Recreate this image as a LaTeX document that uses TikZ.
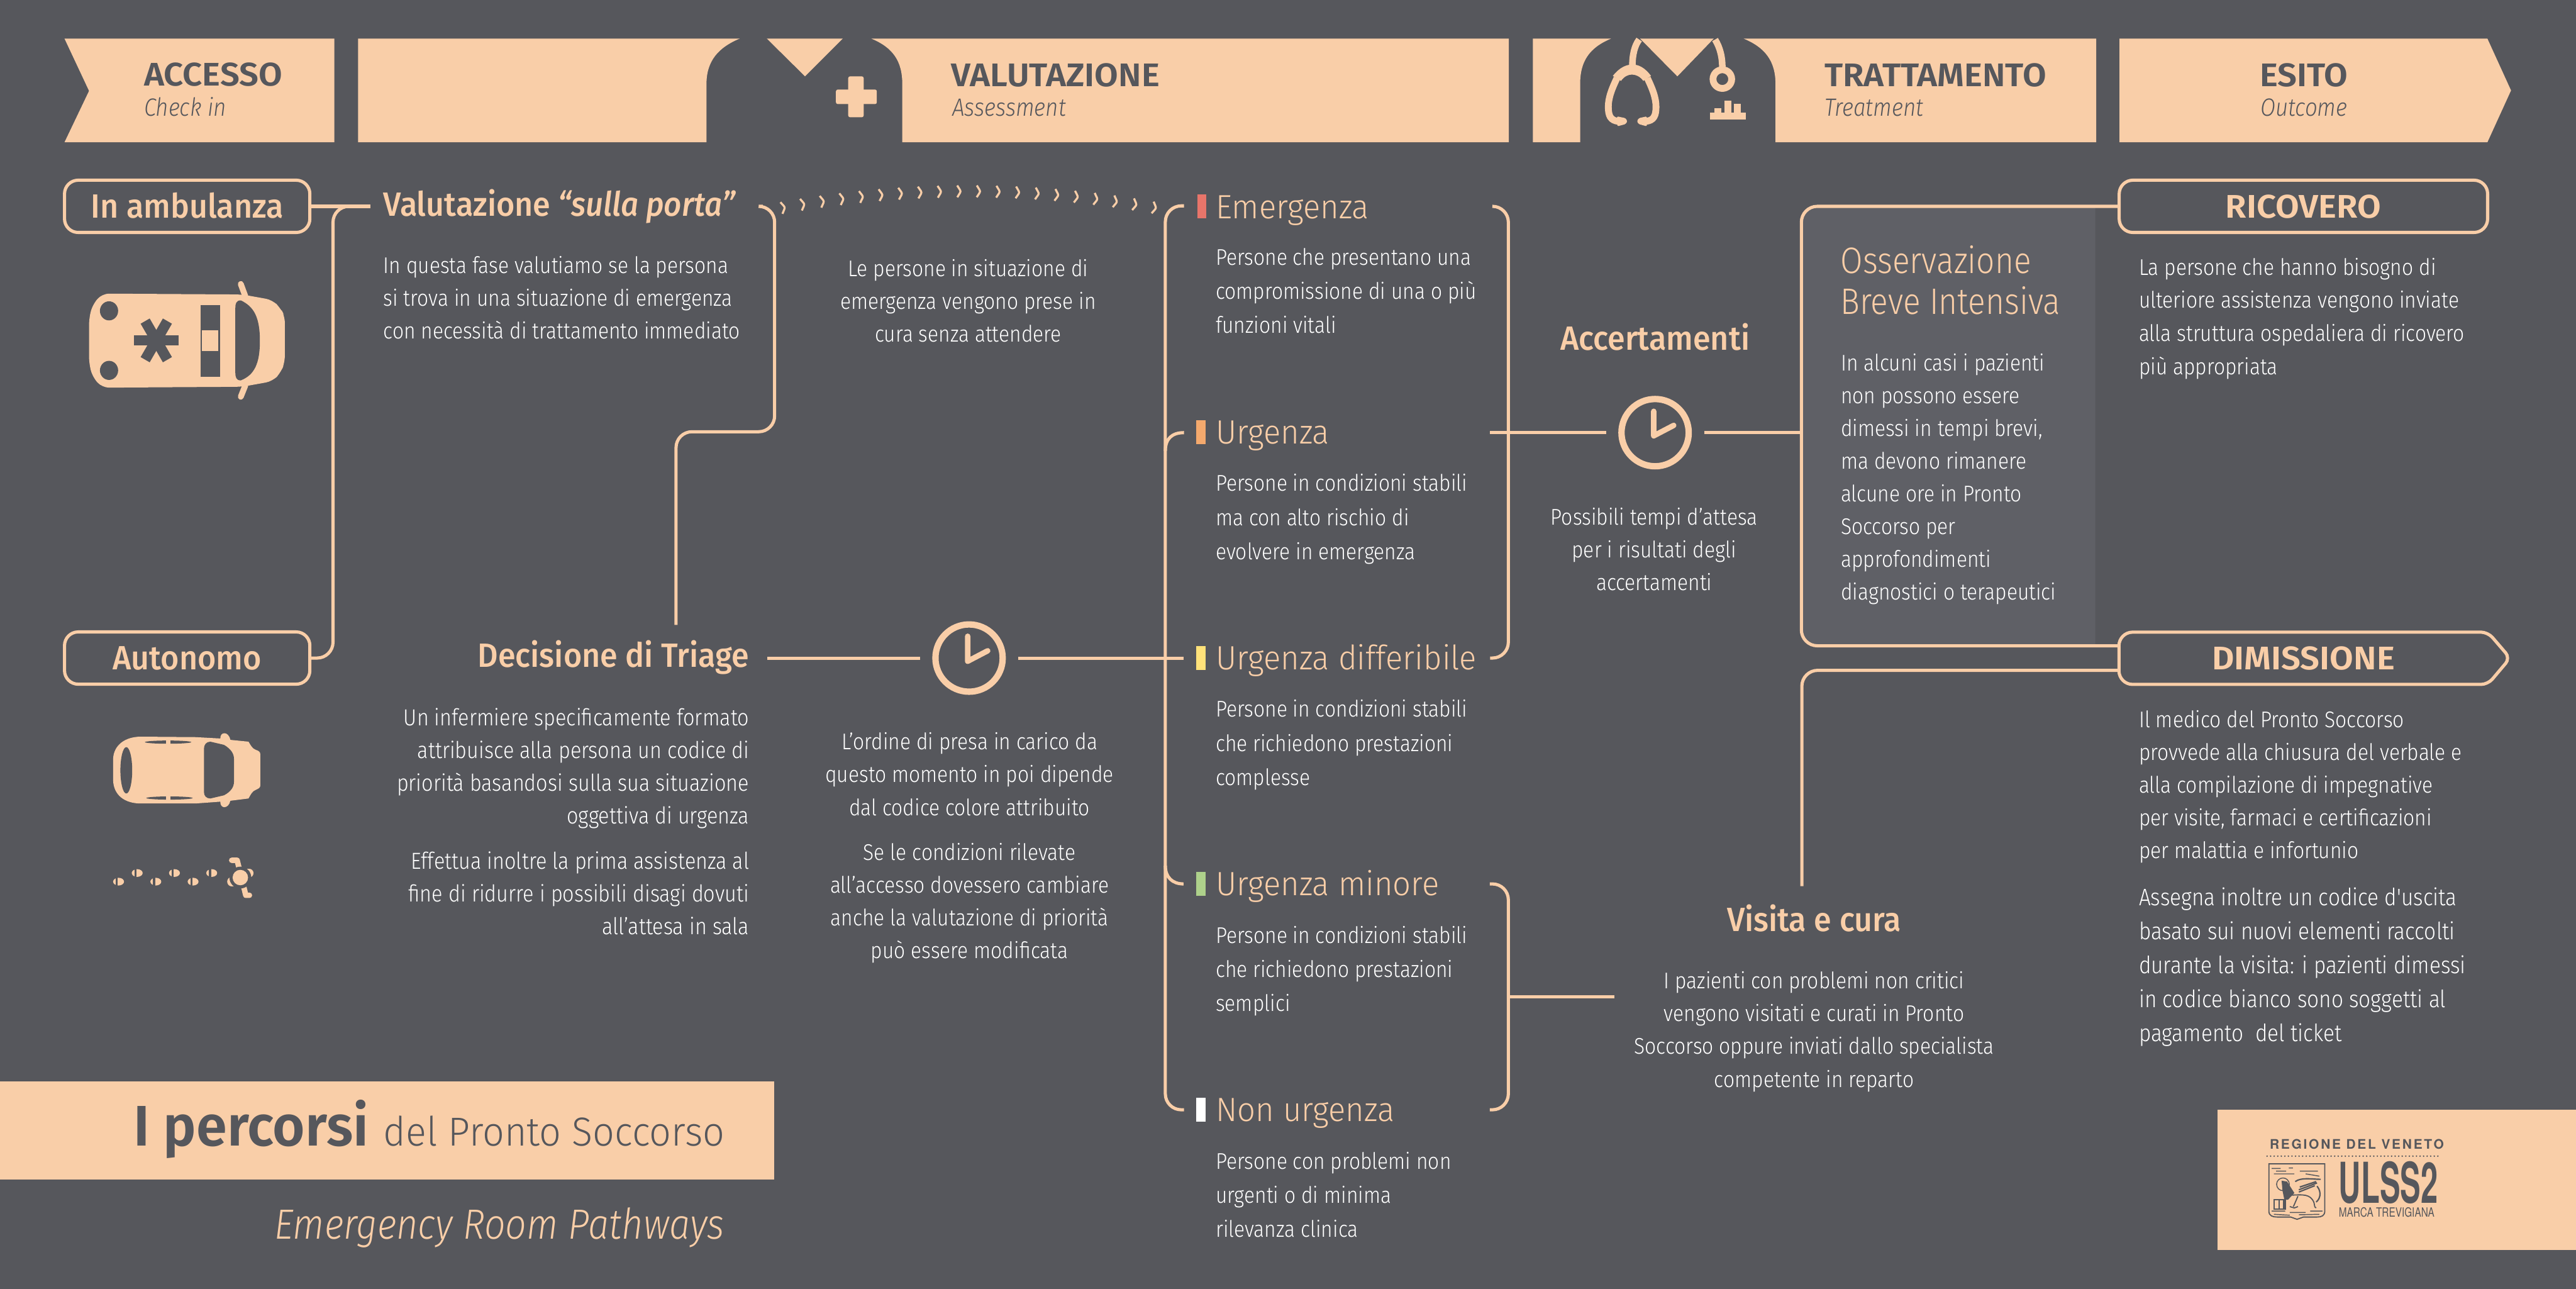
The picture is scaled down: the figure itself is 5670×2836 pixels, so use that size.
\documentclass[tikz,border=0pt]{standalone}
\usepackage{fontspec}
\setmainfont{Fira Sans Light}
\newfontfamily\flight[FakeStretch=0.88]{Fira Sans Light}
\newfontfamily\fcat[FakeStretch=0.95]{Fira Sans Light}
\newfontfamily\flightit[FakeStretch=0.88]{Fira Sans Light Italic}
\newfontfamily\fsemi[FakeStretch=0.94]{Fira Sans Medium}
\newfontfamily\fsemiit[FakeStretch=0.92]{Fira Sans Medium Italic}
\newfontfamily\fcaps[FakeStretch=1.05]{Fira Sans SemiBold}
\newfontfamily\ftitle[FakeStretch=0.97]{Fira Sans SemiBold}
\newfontfamily\fhelb[LetterSpace=13]{TeX Gyre Heros Bold}
\newfontfamily\fhelc[FakeStretch=0.545]{TeX Gyre Heros}
\newfontfamily\fhelm[FakeStretch=0.76]{TeX Gyre Heros}
\definecolor{bg}{HTML}{56575C}
\definecolor{peach}{HTML}{F9CEA8}
\definecolor{obifill}{HTML}{5F6066}
\definecolor{cred}{HTML}{E8756A}
\definecolor{corange}{HTML}{F4A96D}
\definecolor{cyellow}{HTML}{FFE27A}
\definecolor{cgreen}{HTML}{AED18B}
\newcommand{\fs}[2]{\fontsize{#1}{#2}\selectfont}
\tikzset{
 x=0.1pt,y=-0.1pt,
 band/.style={fill=peach},
 conn/.style={draw=peach,line width=0.7pt},
 bracket/.style={conn,rounded corners=3.5pt},
 bodyL/.style={anchor=base west,align=left,inner sep=0pt,text=white,font=\flight\fs{5}{7.5}},
 bodyR/.style={anchor=base east,align=right,inner sep=0pt,text=white,font=\flight\fs{5.1}{7.2}},
 bodyC/.style={anchor=base,align=center,inner sep=0pt,text=white,font=\flight\fs{5}{7.2}},
 headL/.style={anchor=base west,inner sep=0pt,text=peach,font=\fsemi\fs{7.4}{9}},
 headR/.style={anchor=base east,inner sep=0pt,text=peach,font=\fsemi\fs{7.4}{9}},
 headC/.style={anchor=base,inner sep=0pt,text=peach,font=\fsemi\fs{7.4}{9}},
 cat/.style={anchor=base west,inner sep=0pt,text=peach,font=\fcat\fs{7.4}{9}},
 bh/.style={anchor=base west,inner sep=0pt,text=bg,font=\fcaps\fs{7.2}{9}},
 bs/.style={anchor=base west,inner sep=0pt,text=bg,font=\flightit\fs{5.5}{7}},
 boxn/.style={draw=peach,line width=0.7pt,rounded corners=3pt,minimum height=11.5pt,inner sep=0pt,text=peach,text height=5.2pt,text depth=0pt,font=\fsemi\fs{7.4}{9}},
 clockn/.style={circle,draw=peach,line width=1.4pt,minimum size=14.8pt,inner sep=0pt},
 hand/.style={draw=peach,line width=1.2pt,line cap=round,line join=round},
 dk/.style={fill=bg},
}
\begin{document}
\begin{tikzpicture}
\path[use as bounding box,fill=bg] (0,0) rectangle (5670,2836);
% ---- header bands
\fill[band] (142,85) -- (736,85) -- (736,313) -- (142,313) -- (196,200) -- cycle;
\fill[band] (788,85) -- (1628,85) .. controls (1580,105) and (1555,135) .. (1555,185) -- (1555,313) -- (788,313) -- cycle;
\fill[band] (1688,85) -- (1855,85) -- (1772,168) -- cycle;
\fill[band] (1918,85) .. controls (1966,105) and (1986,135) .. (1986,185) -- (1986,313) -- (3321,313) -- (3321,85) -- cycle;
\fill[band] (3374,85) -- (3546,85) .. controls (3498,105) and (3478,135) .. (3478,185) -- (3478,313) -- (3374,313) -- cycle;
\fill[band] (3610,85) -- (3772,85) -- (3692,168) -- cycle;
\fill[band] (3838,85) .. controls (3886,105) and (3908,135) .. (3908,185) -- (3908,313) -- (4614,313) -- (4614,85) -- cycle;
\fill[band] (4665,85) -- (5475,85) -- (5527,199) -- (5475,313) -- (4665,313) -- cycle;
% cross
\fill[band,rounded corners=0.4pt] (1867,168) rectangle (1901,258);
\fill[band,rounded corners=0.4pt] (1840,197) rectangle (1930,229);
% stethoscope
\draw[peach,line width=1.45pt] (3608,87) .. controls (3598,100) and (3593,120) .. (3593,145);
\draw[peach,line width=1.45pt] (3775,87) .. controls (3786,105) and (3791,125) .. (3791,150);
\fill[peach] (3550,167) .. controls (3565,148) and (3580,142) .. (3593,142) .. controls (3606,142) and (3620,148) .. (3634,167) -- (3617,178) .. controls (3610,168) and (3600,164) .. (3592,164) .. controls (3584,164) and (3575,168) .. (3568,178) -- cycle;
\draw[peach,line width=1.5pt] (3559,172) .. controls (3548,195) and (3540,215) .. (3540,235) .. controls (3540,255) and (3545,265) .. (3562,267);
\draw[peach,line width=1.5pt] (3626,172) .. controls (3637,195) and (3645,215) .. (3645,235) .. controls (3645,255) and (3640,265) .. (3623,267);
\fill[peach,rounded corners=0.3pt] (3559,256) -- (3578,260) -- (3582,267) -- (3578,273) -- (3560,278) -- cycle;
\fill[peach,rounded corners=0.3pt] (3625,256) -- (3607,260) -- (3603,267) -- (3607,273) -- (3625,278) -- cycle;
\draw[peach,line width=1.5pt] (3791,174) circle (20.5);
\fill[peach] (3764,248) rectangle (3843,263);
\fill[peach] (3774,238) rectangle (3789,248);
\fill[peach] (3796,221) rectangle (3811,248);
\fill[peach] (3817,229) rectangle (3832,248);
% header text
\node[bh] (taccesso) at (315,189) {ACCESSO};
\node[bs] (tcheck) at (315,255) {Check in};
\node[bh] (tval) at (2092,190) {VALUTAZIONE};
\node[bs] (tass) at (2094,256) {Assessment};
\node[bh] (ttrat) at (4014,190) {TRATTAMENTO};
\node[bs] (ttre) at (4014,256) {Treatment};
\node[bh,anchor=base] (tesi) at (5071,190) {ESITO};
\node[bs,anchor=base] (tout) at (5071,256) {Outcome};
% ---- left column
\node[boxn,minimum width=54pt] (amb) at (412,454) {In ambulanza};
\node[boxn,minimum width=54pt] (aut) at (412,1448) {Autonomo};
\coordinate (vt) at (815,454);
\draw[conn] (amb.east) -- (vt);
\draw[bracket] (vt) -- (733,454) -- (733,1448) -- (aut.east);
% ambulance
\fill[peach,rounded corners=1.5pt] (225,646) -- (533,648) -- (600,660) -- (618,679) -- (627,696) -- (627,797) -- (618,820) -- (600,839) -- (533,851) -- (225,853) -- (204,830) -- (196,800) -- (196,700) -- (204,670) -- cycle;
\draw[peach,line width=1.3pt,line cap=round] (530,625) -- (540,652);
\draw[peach,line width=1.3pt,line cap=round] (530,873) -- (540,848);
\fill[dk] (240,684) ellipse (20 and 21);
\fill[dk] (240,815) ellipse (20 and 21);
\fill[dk] (442,671) rectangle (484,829);
\fill[peach] (445,727) rectangle (481,772);
\fill[dk] (530,661) .. controls (560,675) and (572,700) .. (572,750) .. controls (572,800) and (560,825) .. (530,837) .. controls (520,837) and (518,830) .. (518,820) -- (518,678) .. controls (518,668) and (520,661) .. (530,661) -- cycle;
\foreach \a in {0,60,120}{\draw[bg,line width=2.3pt,rotate around={\a:(344,749)}] (295,749) -- (393,749);}
% car
\fill[peach] (249,1670) .. controls (250,1640) and (275,1621) .. (310,1621) -- (430,1622) -- (485,1625) .. controls (484,1610) and (503,1608) .. (507,1628) -- (547,1632) .. controls (552,1640) and (555,1647) .. (563,1650) .. controls (570,1652) and (573,1655) .. (573,1660) -- (573,1728) .. controls (573,1733) and (570,1735) .. (563,1738) .. controls (555,1741) and (552,1748) .. (547,1757) -- (507,1762) .. controls (503,1781) and (484,1780) .. (485,1764) -- (430,1768) -- (310,1768) .. controls (275,1768) and (250,1750) .. (249,1717) -- cycle;
\fill[dk] (278,1695) ellipse (13 and 51);
\fill[dk] (463,1632) -- (493,1639) .. controls (508,1648) and (515,1658) .. (515,1670) -- (515,1720) .. controls (515,1732) and (508,1742) .. (493,1750) -- (463,1757) .. controls (454,1757) and (449,1751) .. (449,1743) -- (449,1647) .. controls (449,1639) and (454,1632) .. (463,1632) -- cycle;
\fill[dk] (370,1633) ellipse (51 and 3.5);
\fill[dk] (373,1756) ellipse (51 and 3.5);
\fill[peach] (366,1625) rectangle (375,1640);
\fill[peach] (366,1750) rectangle (375,1762);
% pedestrian
\foreach \px/\py in {261/1940,343/1940,425/1940,302/1921,384/1921,466/1921}{
 \fill[peach] (\px,\py) ellipse (12 and 8.5);
 \fill[bg] (\px-6,\py-10) rectangle (\px-1.5,\py+10);}
\draw[peach,line width=1.2pt,line cap=round,line join=round] (510,1893) -- (522,1893) -- (530,1925);
\draw[peach,line width=1.2pt,line cap=round,line join=round] (535,1945) -- (541,1970) -- (549,1970);
\draw[peach,line width=2pt,line cap=round] (530,1921) -- (548,1921);
\draw[peach,line width=2pt,line cap=round] (530,1940) -- (510,1940);
\fill[bg] (529,1931) circle (24);
\fill[peach] (529,1931) circle (17);
% ---- valutazione sulla porta
\node[headL] (vsp) at (842,475) {Valutazione {\fsemiit “sulla porta”}};
\node[bodyL,font=\flight\fs{5}{7.2}] (vspb) at (842,745) {In questa fase valutiamo se la persona\\si trova in una situazione di emergenza\\con necessità di trattamento immediato};
\coordinate (vp1) at (1679,454);
\coordinate (vp2) at (1488,1375);
\draw[bracket] (vp1) -- (1705,454) -- (1705,950) -- (1488,950) -- (vp2);
\foreach \i in {0,...,19}{
 \pgfmathsetmacro{\cx}{1723+43*\i}
 \pgfmathsetmacro{\tvar}{(\cx-2132)/408}
 \pgfmathsetmacro{\cy}{421+36*\tvar*\tvar}
 \pgfmathsetmacro{\ang}{-atan(2*\tvar*36/408)}
 \draw[peach,line width=0.45pt,shift={(\cx,\cy)},rotate=\ang] (-3,-13) .. controls (1,-6) and (4,-3) .. (4,0) .. controls (4,3) and (1,6) .. (-3,13);
}
\node[bodyC] (tpers) at (2131,753) {Le persone in situazione di\\emergenza vengono prese in\\cura senza attendere};
% ---- decisione di triage
\node[headR] (dtr) at (1651,1468) {Decisione di Triage};
\node[bodyR] (dtr1) at (1651,1813) {Un infermiere specificamente formato\\attribuisce alla persona un codice di\\priorità basandosi sulla sua situazione\\oggettiva di urgenza};
\node[bodyR] (dtr2) at (1651,2056) {Effettua inoltre la prima assistenza al\\fine di ridurre i possibili disagi dovuti\\all’attesa in sala};
\coordinate (dtrE) at (1689,1448);
\coordinate (lmid) at (2605,1448);
\node[clockn] (c1) at (2133,1448) {};
\draw[hand] (2130,1400) -- (2130,1455) -- (2174,1432);
\draw[conn] (dtrE) -- ([xshift=-2.7pt]c1.west);
\draw[conn] ([xshift=2.7pt]c1.east) -- (lmid);
\node[bodyC] (ord1) at (2134,1794) {L’ordine di presa in carico da\\questo momento in poi dipende\\dal codice colore attribuito};
\node[bodyC] (ord2) at (2134,2109) {Se le condizioni rilevate\\all’accesso dovessero cambiare\\anche la valutazione di priorità\\può essere modificata};
% ---- categories
\coordinate (la) at (2606,453);
\coordinate (lb) at (2606,2442);
\draw[bracket] (la) -- (2565,453) -- (2565,2442) -- (lb);
\coordinate (lu) at (2606,952);
\coordinate (lm) at (2605,1945);
\draw[conn] (lu) .. controls (2580,952) and (2565,965) .. (2565,992);
\draw[conn] (lm) .. controls (2580,1945) and (2565,1930) .. (2565,1905);
\fill[cred] (2635,428) rectangle (2655,481);
\fill[corange] (2633,925) rectangle (2654,977);
\fill[cyellow] (2633,1421) rectangle (2654,1474);
\fill[cgreen] (2633,1918) rectangle (2654,1971);
\fill[white] (2633,2416) rectangle (2654,2468);
\node[cat] (ce) at (2674,481) {Emergenza};
\node[cat] (cu) at (2674,977) {Urgenza};
\node[cat] (cd) at (2674,1473) {Urgenza differibile};
\node[cat] (cm) at (2674,1971) {Urgenza minore};
\node[cat] (cn) at (2674,2468) {Non urgenza};
\node[bodyL] (be) at (2674,733) {Persone che presentano una\\compromissione di una o più\\funzioni vitali};
\node[bodyL] (bu) at (2674,1231) {Persone in condizioni stabili\\ma con alto rischio di\\evolvere in emergenza};
\node[bodyL] (bd) at (2674,1728) {Persone in condizioni stabili\\che richiedono prestazioni\\complesse};
\node[bodyL] (bm) at (2674,2225) {Persone in condizioni stabili\\che richiedono prestazioni\\semplici};
\node[bodyL] (bn) at (2674,2722) {Persone con problemi non\\urgenti o di minima\\rilevanza clinica};
% right brackets
\coordinate (ra) at (3286,454);
\coordinate (rb) at (3280,1448);
\draw[bracket] (ra) -- (3320,454) -- (3320,1448) -- (rb);
\coordinate (rc) at (3279,1945);
\coordinate (rd) at (3279,2442);
\draw[bracket] (rc) -- (3320,1945) -- (3320,2442) -- (rd);
\coordinate (rs) at (3320,2193);
\coordinate (rt) at (3553,2193);
\draw[conn] (rs) -- (rt);
% ---- accertamenti
\node[headC] (acc) at (3643,770) {Accertamenti};
\node[clockn] (c2) at (3643,952) {};
\draw[hand] (3640,905) -- (3640,959) -- (3684,936);
\coordinate (ru) at (3280,952);
\coordinate (obiW) at (3965,952);
\draw[conn] (ru) -- ([xshift=-2.7pt]c2.west);
\draw[conn] ([xshift=2.7pt]c2.east) -- (obiW);
\node[bodyC] (accb) at (3641,1299) {Possibili tempi d’attesa\\per i risultati degli\\accertamenti};
% ---- OBI
\fill[obifill] (4612,454) [rounded corners=3.5pt] -- (3965,454) -- (3965,1421) [sharp corners] -- (4612,1421) -- cycle;
\node[boxn,minimum width=81.1pt,font=\fcaps\fs{7.2}{9}] (ric) at (5070,454) {RICOVERO};
\node[inner sep=0pt,anchor=base,text=peach,font=\fcaps\fs{7.2}{9}] (dim) at (5070,1473) {DIMISSIONE};
\draw[peach,line width=0.7pt,rounded corners=3pt] (4664,1448) -- (4664,1391) [rounded corners=1.5pt] -- (5476,1391) -- (5525,1448) -- (5476,1506) [rounded corners=3pt] -- (4664,1506) -- cycle;
\coordinate (d1) at (4664,1421);
\coordinate (d2) at (4664,1475);
\draw[bracket] (ric.west) -- (3965,454) -- (3965,1421) -- (d1);
\coordinate (vc) at (3966,1950);
\draw[bracket] (d2) -- (3966,1475) -- (vc);
\node[anchor=base west,align=left,inner sep=0pt,text=peach,font=\flight\fs{8.1}{9.0}] (obit) at (4049,691) {Osservazione\\Breve Intensiva};
\node[anchor=base west,align=left,inner sep=0pt,text=white,font=\flight\fs{5}{7.2}] (obib) at (4050,1320) {In alcuni casi i pazienti\\non possono essere\\dimessi in tempi brevi,\\ma devono rimanere\\alcune ore in Pronto\\Soccorso per\\approfondimenti\\diagnostici o terapeutici};
% ---- right text
\node[bodyL,font=\flight\fs{5}{7.3}] (ricb) at (4706,824) {La persone che hanno bisogno di\\ulteriore assistenza vengono inviate\\alla struttura ospedaliera di ricovero\\più appropriata};
\node[bodyL,font=\flight\fs{5}{7.2}] (dimb1) at (4706,1889) {Il medico del Pronto Soccorso\\provvede alla chiusura del verbale e\\alla compilazione di impegnative\\per visite, farmaci e certificazioni\\per malattia e infortunio};
\node[bodyL,font=\flight\fs{5.25}{7.5}] (dimb2) at (4706,2292) {Assegna inoltre un codice d'uscita\\basato sui nuovi elementi raccolti\\durante la visita: i pazienti dimessi\\in codice bianco sono soggetti al\\pagamento\ \ del ticket};
\node[headC] (vis) at (3993,2050) {Visita e cura};
\node[bodyC] (visb) at (3993,2392) {I pazienti con problemi non critici\\vengono visitati e curati in Pronto\\Soccorso oppure inviati dallo specialista\\competente in reparto};
% ---- title
\fill[band] (0,2380) rectangle (1704,2596);
\node[anchor=base west,inner sep=0pt,text=bg] (tit) at (292,2522) {\ftitle\fs{12.6}{14}I percorsi};
\node[anchor=base west,inner sep=0pt,text=bg] (tit2) at (842,2522) {\fcat\fs{8.9}{10}del Pronto Soccorso};
\node[anchor=base east,inner sep=0pt,text=peach] (sub) at (1596,2726) {\flightit\fs{9.3}{11}Emergency Room Pathways};
% ---- logo
\fill[band] (4881,2442) rectangle (5670,2751);
\node[anchor=base west,inner sep=0pt,text=bg] (lg1) at (4994,2529) {\fhelb\fs{2.9}{3}REGIONE DEL VENETO};
\foreach \i in {0,...,48}{\fill[bg] (4990+7.83*\i,2544) circle (1.8);}
\node[anchor=base west,inner sep=0pt,text=bg] (lg2) at (5146,2648) {\fhelc\bfseries\fs{12.4}{13}ULSS2};
\node[anchor=base west,inner sep=0pt,text=bg] (lg3) at (5146,2678) {\fhelm\fs{2.8}{3}MARCA TREVIGIANA};
% shield
\draw[bg,line width=0.25pt] (4994,2561) -- (5117,2561) -- (5117,2665) .. controls (5117,2675) and (5110,2678) .. (5100,2678) -- (5070,2678) -- (5056,2683) -- (5042,2678) -- (5012,2678) .. controls (5002,2678) and (4994,2675) .. (4994,2665) -- cycle;
\draw[bg,line width=0.2pt] (5000,2571) -- (5020,2571) (5038,2570) -- (5047,2570) (5010,2577) -- (5032,2577) (5062,2577) -- (5102,2577) (5005,2583) -- (5050,2583) (5075,2583) -- (5105,2588);
\draw[bg,line width=0.2pt] (5000,2665) -- (5030,2665) (5040,2668) -- (5075,2668) (5085,2665) -- (5112,2665) (5005,2672) -- (5040,2674) (5060,2673) -- (5105,2672);
\draw[bg,line width=0.2pt] (5025,2606) circle (14);
\fill[bg] (5022,2598) -- (5034,2600) -- (5050,2625) -- (5036,2640) -- (5028,2640) -- (5024,2620) -- cycle;
\fill[bg] (5025,2640) rectangle (5030,2660);
\draw[bg,line width=0.25pt] (5032,2630) .. controls (5060,2630) and (5080,2625) .. (5090,2640) .. controls (5097,2650) and (5092,2656) .. (5098,2658) (5040,2655) -- (5050,2658) -- (5058,2655) (5058,2632) -- (5048,2655);
\draw[bg,line width=0.3pt] (5052,2600) .. controls (5065,2590) and (5090,2595) .. (5108,2595) (5060,2618) -- (5100,2603) (5062,2612) -- (5098,2600) (5060,2623) -- (5095,2609) (5100,2610) .. controls (5112,2625) and (5105,2640) .. (5098,2645);
\draw[bg,line width=0.3pt] (5005,2640) rectangle (5030,2660);
\draw[bg,line width=0.3pt] (5017,2640) -- (5017,2660);
\end{tikzpicture}
\end{document}
